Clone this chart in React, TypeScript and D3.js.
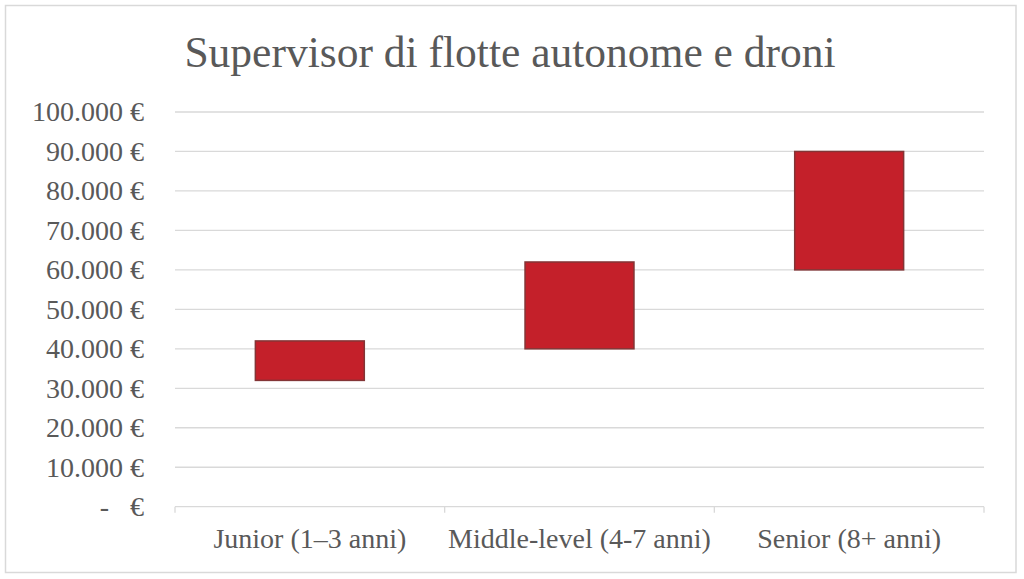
import React from "react";
import * as d3 from "d3";

const categories = ["Junior (1–3 anni)", "Middle-level (4-7 anni)", "Senior (8+ anni)"];
const lowValues = [32000, 40000, 60000];
const highValues = [42000, 62000, 90000];
const yTicks = [0, 10000, 20000, 30000, 40000, 50000, 60000, 70000, 80000, 90000, 100000];
const title = "Supervisor di flotte autonome e droni";

const W = 1024;
const H = 579;
const FONT = "'Liberation Serif', serif";
const TEXT = "#595959";
const GRID = "#D9D9D9";

const fmt = (v: number) =>
  v === 0 ? "-   €" : d3.format(",")(v).replace(/,/g, ".") + " €";

export default function App() {
  const x = d3.scaleBand<string>().domain(categories).range([175, 984]).padding(0);
  const y = d3.scaleLinear().domain([0, 100000]).range([506.7, 112]);
  const barW = x.bandwidth() * 0.404;
  const boundaries = [...categories.map((c) => x(c) as number), 984];

  return (
    <svg
      width={W}
      height={H}
      style={{ position: "absolute", left: 0, top: 0, fontFamily: FONT }}
    >
      <rect x={0} y={0} width={W} height={H} fill="#fff" />
      <rect x={5.5} y={5.5} width={1010.5} height={567} fill="#fff" stroke={GRID} strokeWidth={1.5} />
      <text x={510} y={66.7} textAnchor="middle" fontSize={43.5} fill={TEXT}>
        {title}
      </text>
      {yTicks.filter((t) => t > 0).map((t) => (
        <line key={t} x1={175} x2={984} y1={y(t)} y2={y(t)} stroke={GRID} strokeWidth={1.3} />
      ))}
      <line x1={175} x2={984} y1={y(0)} y2={y(0)} stroke={GRID} strokeWidth={1.3} />
      {boundaries.map((b, i) => (
        <line key={i} x1={b} x2={b} y1={y(0)} y2={y(0) + 6} stroke={GRID} strokeWidth={1.3} />
      ))}
      {yTicks.map((t) => (
        <text
          key={t}
          x={144}
          y={y(t) + 9.3}
          textAnchor="end"
          fontSize={28}
          fill={TEXT}
          style={{ whiteSpace: "pre" }}
        >
          {fmt(t)}
        </text>
      ))}
      {categories.map((c, i) => {
        const cx = (x(c) as number) + x.bandwidth() / 2;
        return (
          <g key={c}>
            <rect
              x={cx - barW / 2}
              y={y(highValues[i])}
              width={barW}
              height={y(lowValues[i]) - y(highValues[i])}
              fill="#C4202A"
              stroke="#833536"
              strokeWidth={1.5}
            />
            <text x={cx} y={548} textAnchor="middle" fontSize={28} fill={TEXT}>
              {c}
            </text>
          </g>
        );
      })}
    </svg>
  );
}
